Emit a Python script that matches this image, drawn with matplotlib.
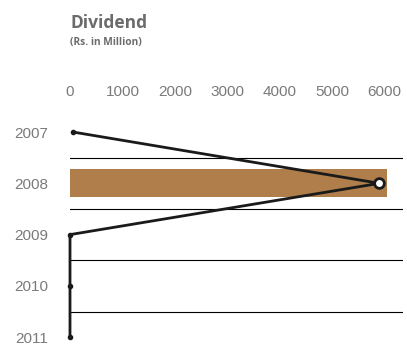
import matplotlib.pyplot as plt

# dividend figures, Rs. million
years = ["2007", "2008", "2009", "2010", "2011"]
bar_values = [0, 6050, 0, 0, 0]
line_values = [60, 5900, 0, 0, 0]
x_ticks = [0, 1000, 2000, 3000, 4000, 5000, 6000]

grey = "#7a7a7a"
bar_colour = "#AF7E4A"

fig = plt.figure(figsize=(4.07, 3.54), dpi=100)
ax = fig.add_axes([70 / 407, 1 - 350 / 354, 333 / 407, 240 / 354])

pos = list(range(len(years)))

ax.barh(pos, bar_values, height=0.55, color=bar_colour, zorder=2)

# thin rules between the year rows
for p in pos[:-1]:
    ax.axhline(p + 0.5, color="black", lw=0.8, zorder=1)

ax.plot(line_values, pos, color="#1a1a1a", lw=2.0, marker="o", ms=3,
        zorder=3, clip_on=False)
peak = line_values.index(max(line_values))
ax.plot(line_values[peak], pos[peak], "o", ms=7, mfc="white", mec="#1a1a1a",
        mew=2, zorder=4)

ax.set_xlim(0, 6350)
ax.set_ylim(4.25, -0.43)
ax.xaxis.tick_top()
ax.set_xticks(x_ticks)
ax.set_xticklabels([str(v) for v in x_ticks])
ax.set_yticks(pos)
ax.set_yticklabels(years)
ax.tick_params(length=0, labelsize=11, labelcolor=grey)
ax.tick_params(axis="x", pad=8)
ax.tick_params(axis="y", pad=16)
for lab in ax.get_xticklabels() + ax.get_yticklabels():
    lab.set_family("Liberation Sans")
for s in ax.spines.values():
    s.set_visible(False)

fig.text(70 / 407, 1 - 23 / 354, "Dividend", fontsize=12.5, fontweight="bold",
         family="Open Sans", color="#6b6b6b", va="center", ha="left")
fig.text(70 / 407, 1 - 43 / 354, "(Rs. in Million)", fontsize=7.3, fontweight="bold",
         family="Open Sans", color="#6b6b6b", va="center", ha="left")

fig.savefig("out.png", dpi=100)
